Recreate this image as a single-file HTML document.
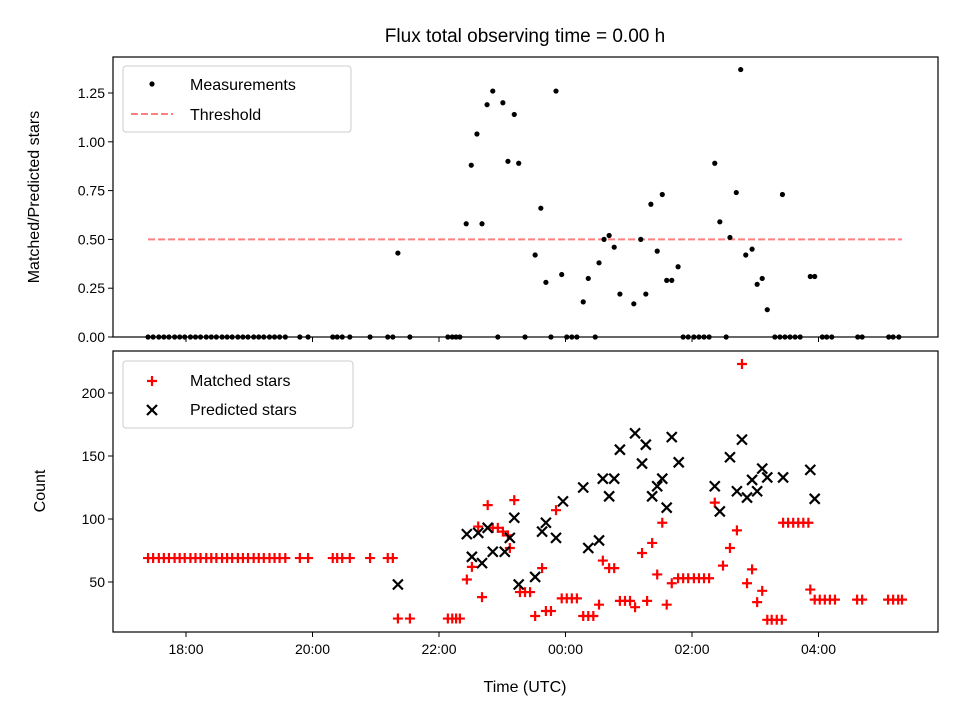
<!DOCTYPE html>
<html><head><meta charset="utf-8"><style>
body{margin:0;background:#fff}
svg{display:block;font-family:"Liberation Sans","DejaVu Sans",sans-serif}
</style></head><body>
<svg id="chart" width="960" height="720" viewBox="0 0 960 720">
<rect width="960" height="720" fill="#fff"/>
<text x="525" y="42" font-size="19" text-anchor="middle">Flux total observing time = 0.00 h</text>
<g id="topPanel"></g>
<g id="botPanel"></g>
<text x="525" y="692" font-size="16" text-anchor="middle">Time (UTC)</text>
<text transform="translate(39,197) rotate(-90)" font-size="16" text-anchor="middle">Matched/Predicted stars</text>
<text transform="translate(45,491) rotate(-90)" font-size="16" text-anchor="middle">Count</text>
</svg>
<script>
const early=[17.40,17.48,17.57,17.65,17.73,17.82,17.90,17.98,18.07,18.15,18.23,18.32,18.40,18.48,18.57,18.65,18.73,18.82,18.90,18.98,19.07,19.15,19.23,19.32,19.40,19.48,19.57,19.80,19.93,20.32,20.39,20.47,20.59,20.91,21.19,21.27];
const fluxTimes=early.concat([21.35,21.54,22.14,22.21,22.27,22.33,22.43,22.51,22.60,22.68,22.76,22.85,22.93,23.01,23.09,23.19,23.26,23.36,23.52,23.61,23.69,23.77,23.85,23.94,24.02,24.10,24.18,24.28,24.36,24.47,24.53,24.61,24.69,24.77,24.86,25.08,25.19,25.27,25.35,25.45,25.53,25.60,25.68,25.78,25.86,25.94,26.03,26.11,26.19,26.27,26.36,26.44,26.54,26.60,26.70,26.77,26.85,26.95,27.03,27.11,27.19,27.31,27.39,27.43,27.47,27.55,27.63,27.71,27.87,27.94,28.06,28.13,28.21,28.62,28.69,29.11,29.18,29.27]);
const fluxValues=early.map(()=>0).concat([0.43,0,0,0,0,0,0.58,0.88,1.04,0.58,1.19,1.26,0,1.20,0.90,1.14,0.89,0,0.42,0.66,0.28,0,1.26,0.32,0,0,0,0.18,0.30,0,0.38,0.50,0.52,0.46,0.22,0.17,0.50,0.22,0.68,0.44,0.73,0.29,0.29,0.36,0,0,0,0,0,0,0.89,0.59,0,0.51,0.74,1.37,0.42,0.45,0.27,0.30,0.14,0,0,0.73,0,0,0,0,0.31,0.31,0,0,0,0,0,0,0,0]);
const threshold=0.5;
const matchedTimes=early.concat([21.35,21.54,22.14,22.21,22.27,22.33,22.44,22.52,22.62,22.68,22.77,22.85,22.93,23.01,23.09,23.12,23.19,23.28,23.36,23.44,23.52,23.63,23.69,23.77,23.85,23.94,24.02,24.10,24.18,24.28,24.36,24.44,24.53,24.59,24.69,24.77,24.86,24.94,25.02,25.10,25.21,25.29,25.37,25.45,25.53,25.60,25.68,25.78,25.86,25.94,26.03,26.11,26.19,26.27,26.36,26.49,26.60,26.71,26.79,26.87,26.95,27.03,27.11,27.19,27.26,27.34,27.42,27.44,27.52,27.60,27.68,27.76,27.84,27.87,27.94,28.02,28.10,28.18,28.26,28.61,28.69,29.10,29.18,29.26,29.32]);
const matchedValues=early.map(()=>69).concat([21,21,21,21,21,21,52,62,94,38,111,93,93,90,87,77,115,42,42,42,23,61,27,27,107,37,37,37,37,23,23,23,32,67,61,61,35,35,35,30,73,35,81,56,97,32,49,53,53,53,53,53,53,53,113,63,77,91,223,49,60,34,43,20,20,20,20,97,97,97,97,97,97,44,36,36,36,36,36,36,36,36,36,36,36]);
const predTimes=[21.35,22.44,22.52,22.62,22.68,22.77,22.85,23.04,23.12,23.19,23.26,23.52,23.63,23.69,23.85,23.96,24.28,24.36,24.53,24.59,24.69,24.77,24.86,25.10,25.21,25.27,25.37,25.45,25.53,25.60,25.68,25.79,26.36,26.44,26.60,26.71,26.79,26.87,26.95,27.03,27.11,27.19,27.44,27.87,27.94];
const predValues=[48,88,70,89,65,93,74,74,85,101,48,54,90,97,85,114,125,77,83,132,118,132,155,168,144,159,118,126,132,109,165,145,126,106,149,122,163,117,131,122,140,133,133,139,116];
const xTicks=[18,20,22,24,26,28];
const xTickLabels=["18:00","20:00","22:00","00:00","02:00","04:00"];
const topTicks=[0,0.25,0.5,0.75,1.0,1.25];
const topTickLabels=["0.00","0.25","0.50","0.75","1.00","1.25"];
const botTicks=[50,100,150,200];
const botTickLabels=["50","100","150","200"];

const NS="http://www.w3.org/2000/svg";
const L=113,R=938;
const xs=h=>186+(h-18)*63.25;
const yt=v=>337-v*195.2;
const yb=v=>645-v*1.26;
function mk(tag,attrs,parent,txt){const e=document.createElementNS(NS,tag);for(const k in attrs)e.setAttribute(k,attrs[k]);if(txt!==undefined)e.textContent=txt;parent.appendChild(e);return e;}
const topG=document.getElementById('topPanel'),botG=document.getElementById('botPanel');

function frame(g,y0,y1,ticks,labels,yf,showX,nm){
  xTicks.forEach((t,i)=>{
    const l=mk('line',{x1:xs(t),x2:xs(t),y1:y1,y2:y1+5,stroke:'#000','stroke-width':1},g);
    
    
    if(showX){const tx=mk('text',{x:xs(t),y:y1+22,'font-size':14,'text-anchor':'middle'},g,xTickLabels[i]);
      
      }
  });
  ticks.forEach((t,i)=>{
    const l=mk('line',{x1:L-5,x2:L,y1:yf(t),y2:yf(t),stroke:'#000','stroke-width':1},g);
    
    
    const tx=mk('text',{x:L-8,y:yf(t)+5,'font-size':14,'text-anchor':'end'},g,labels[i]);
    
    
  });
}
function plus(g,x,y,nm){const p=mk('path',{d:`M${x-5},${y}H${x+5}M${x},${y-5}V${y+5}`,stroke:'#f00','stroke-width':2.2,fill:'none'},g);
  
  }
function cross(g,x,y,nm){const p=mk('path',{d:`M${x-5},${y-5}L${x+5},${y+5}M${x-5},${y+5}L${x+5},${y-5}`,stroke:'#000','stroke-width':2.2,fill:'none'},g);
  
  }

frame(topG,57,337,topTicks,topTickLabels,yt,false,'top');
const th=mk('line',{x1:xs(17.4),x2:xs(29.32),y1:yt(threshold),y2:yt(threshold),stroke:'#ff8080','stroke-width':2,'stroke-dasharray':'7,3'},topG);


fluxTimes.forEach((t,i)=>{const c=mk('circle',{cx:xs(t),cy:yt(fluxValues[i]),r:2.6,fill:'#000'},topG);
  
  });
const tf=mk('rect',{x:L,y:57,width:R-L,height:280,fill:'none',stroke:'#000','stroke-width':1.2},topG);


const lg1=mk('g',{},topG);


mk('rect',{x:123,y:66,width:228,height:66,rx:3,fill:'#fff','fill-opacity':0.8,stroke:'#ccc'},lg1);
mk('circle',{cx:152,cy:84,r:2.6,fill:'#000'},lg1);
mk('text',{x:190,y:90,'font-size':16},lg1,'Measurements');
mk('line',{x1:131,x2:173,y1:114,y2:114,stroke:'#ff8080','stroke-width':2,'stroke-dasharray':'7,3'},lg1);
mk('text',{x:190,y:120,'font-size':16},lg1,'Threshold');

frame(botG,351,632,botTicks,botTickLabels,yb,true,'bottom');
matchedTimes.forEach((t,i)=>plus(botG,xs(t),yb(matchedValues[i]),'matched-point'));
predTimes.forEach((t,i)=>cross(botG,xs(t),yb(predValues[i]),'predicted-point'));
const bf=mk('rect',{x:L,y:351,width:R-L,height:281,fill:'none',stroke:'#000','stroke-width':1.2},botG);


const lg2=mk('g',{},botG);


mk('rect',{x:123,y:361,width:230,height:67,rx:3,fill:'#fff','fill-opacity':0.8,stroke:'#ccc'},lg2);
plus(lg2,152,381,'legend-matched-marker');
mk('text',{x:190,y:386,'font-size':16},lg2,'Matched stars');
cross(lg2,152,410,'legend-predicted-marker');
mk('text',{x:190,y:415,'font-size':16},lg2,'Predicted stars');
</script>
</body></html>
